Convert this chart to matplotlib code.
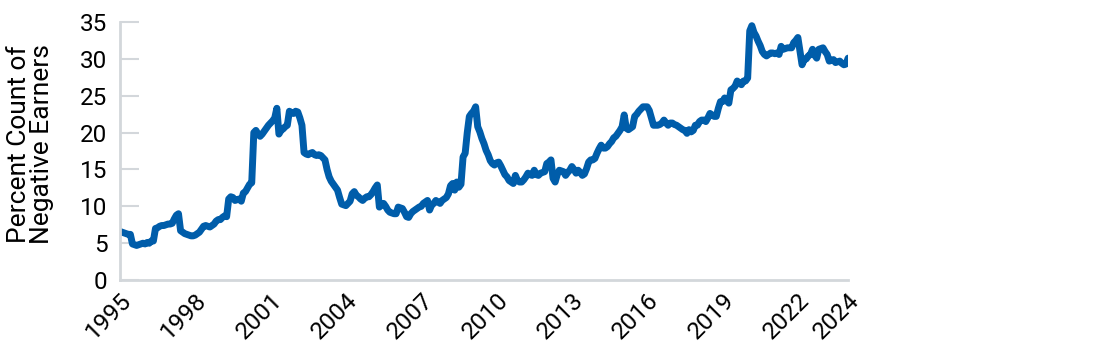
"""Percent count of negative earners, monthly, 1995-2024."""

import matplotlib

matplotlib.use("Agg")
import matplotlib.pyplot as plt  # noqa: E402
import numpy as np  # noqa: E402

plt.rcParams["font.family"] = ["Roboto", "DejaVu Sans"]

start_year = 1995
# monthly values, one row per year (Jan..Dec)
values_by_year = [
    [6.6, 6.5, 6.4, 6.3, 6.2, 6.2, 4.9, 4.8, 4.7, 4.8, 4.9, 5.0],  # 1995
    [4.9, 5.1, 5.0, 5.3, 5.3, 7.0, 7.1, 7.3, 7.4, 7.4, 7.5, 7.6],  # 1996
    [7.6, 7.7, 8.3, 8.8, 9.0, 6.7, 6.5, 6.3, 6.2, 6.1, 6.0, 6.0],  # 1997
    [6.1, 6.3, 6.5, 6.9, 7.3, 7.4, 7.3, 7.2, 7.4, 7.6, 8.0, 8.2],  # 1998
    [8.2, 8.5, 8.7, 8.6, 11.0, 11.3, 11.2, 10.8, 10.9, 11.0, 10.7, 11.8],  # 1999
    [12.0, 12.5, 13.0, 13.2, 20.0, 20.3, 19.8, 19.5, 19.8, 20.2, 20.6, 21.0],  # 2000
    [21.3, 21.6, 22.0, 23.3, 19.8, 20.3, 20.5, 20.8, 21.0, 22.9, 22.7, 22.6],  # 2001
    [22.9, 22.8, 22.0, 21.0, 17.3, 17.1, 17.0, 17.2, 17.3, 17.0, 16.9, 17.0],  # 2002
    [16.9, 16.6, 16.3, 15.0, 14.0, 13.4, 13.0, 12.6, 12.2, 11.2, 10.3, 10.2],  # 2003
    [10.1, 10.4, 10.7, 11.7, 12.0, 11.5, 11.3, 11.0, 10.8, 11.1, 11.3, 11.3],  # 2004
    [11.6, 12.0, 12.5, 12.9, 9.9, 10.2, 10.4, 10.0, 9.5, 9.2, 9.1, 9.0],  # 2005
    [9.0, 9.9, 9.8, 9.7, 9.2, 8.6, 8.5, 9.0, 9.3, 9.5, 9.7, 9.9],  # 2006
    [10.0, 10.4, 10.6, 10.8, 9.5, 10.2, 10.4, 10.8, 10.6, 10.4, 10.8, 11.0],  # 2007
    [11.2, 11.7, 12.8, 13.1, 12.2, 13.3, 12.6, 13.0, 16.7, 17.2, 20.0, 22.2],  # 2008
    [22.6, 22.9, 23.5, 20.8, 20.1, 19.2, 18.5, 17.6, 17.0, 16.2, 15.8, 15.6],  # 2009
    [15.9, 16.0, 15.5, 14.9, 14.3, 14.0, 13.5, 13.3, 13.1, 14.2, 13.5, 13.3],  # 2010
    [13.3, 13.6, 14.0, 14.5, 14.3, 14.2, 14.9, 14.3, 14.2, 14.5, 14.6, 14.7],  # 2011
    [15.8, 16.0, 16.3, 13.8, 13.3, 14.3, 14.9, 14.8, 14.7, 14.2, 14.6, 14.9],  # 2012
    [15.4, 15.0, 14.5, 14.9, 14.6, 14.2, 14.4, 15.1, 16.0, 16.3, 16.3, 16.5],  # 2013
    [17.2, 17.8, 18.3, 17.9, 17.9, 18.1, 18.5, 18.8, 19.3, 19.5, 19.9, 20.3],  # 2014
    [20.8, 22.4, 20.6, 20.4, 20.6, 20.8, 22.2, 22.5, 22.9, 23.2, 23.5, 23.5],  # 2015
    [23.5, 23.0, 22.0, 21.0, 21.0, 21.0, 21.1, 21.3, 21.7, 21.3, 21.0, 21.3],  # 2016
    [21.3, 21.1, 21.0, 20.8, 20.6, 20.4, 20.3, 19.9, 20.4, 20.1, 20.3, 21.0],  # 2017
    [21.0, 21.5, 21.7, 21.7, 21.5, 22.0, 22.6, 22.4, 22.2, 22.2, 23.3, 24.2],  # 2018
    [24.2, 24.7, 24.3, 24.0, 25.8, 26.0, 26.3, 27.0, 26.7, 26.5, 27.0, 27.0],  # 2019
    [27.4, 33.8, 34.5, 33.6, 33.1, 32.4, 31.8, 31.0, 30.6, 30.4, 30.6, 30.8],  # 2020
    [30.8, 30.7, 30.8, 30.6, 31.7, 31.3, 31.4, 31.5, 31.5, 31.5, 32.2, 32.5],  # 2021
    [32.9, 31.0, 29.2, 29.9, 30.0, 30.4, 30.6, 31.3, 30.5, 30.1, 31.3, 31.4],  # 2022
    [31.5, 31.0, 30.6, 29.7, 29.8, 29.9, 29.5, 29.6, 29.7, 29.4, 29.2, 29.3],  # 2023
    [30.1],  # 2024
]
tick_years = [1995, 1998, 2001, 2004, 2007, 2010, 2013, 2016, 2019, 2022, 2024]
y_ticks = [0, 5, 10, 15, 20, 25, 30, 35]

values = np.concatenate([np.array(v) for v in values_by_year])
dates = start_year + np.arange(len(values)) / 12.0

fig = plt.figure(figsize=(11, 3.55), dpi=100)
ax = fig.add_axes([0.109, 0.211, 0.662, 0.727])

ax.plot(dates, values, color="#005DAA", linewidth=5, solid_capstyle="round",
        solid_joinstyle="round")

ax.set_xlim(1995, 2024)
ax.set_ylim(0, 35)
ax.set_xticks(tick_years)
ax.set_xticklabels([str(y) for y in tick_years], rotation=45, ha="right",
                   rotation_mode="anchor", fontsize=17.5)
ax.set_yticks(y_ticks)
ax.set_yticklabels([str(y) for y in y_ticks], fontsize=17.5)

grey = "#d3d7db"
for side in ("top", "right"):
    ax.spines[side].set_visible(False)
for side in ("left", "bottom"):
    ax.spines[side].set_color(grey)
    ax.spines[side].set_linewidth(2)
ax.tick_params(axis="y", direction="in", length=14, width=1.5, color=grey, pad=9)
ax.tick_params(axis="x", length=0, pad=6)

ax.set_ylabel("Percent Count of\nNegative Earners", fontsize=19, linespacing=0.95)
ax.yaxis.set_label_coords(-0.091, 0.527)

fig.savefig("out.png", dpi=100)
